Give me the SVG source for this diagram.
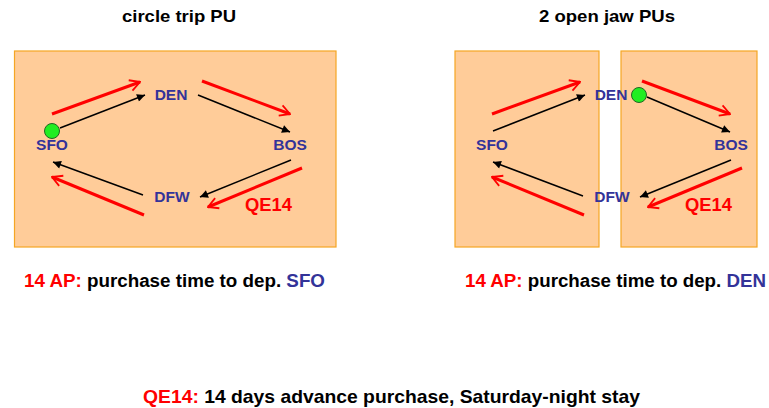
<svg xmlns="http://www.w3.org/2000/svg" width="769" height="408" viewBox="0 0 769 408">
<style>
text{font-family:"Liberation Sans",Arial,sans-serif;font-weight:bold}
.box{fill:#FFCC99;stroke:#F5A623;stroke-width:1.2}
.lbl{font-size:15.5px;fill:#333399;text-anchor:middle}
.ttl{font-size:17px;fill:#000;text-anchor:middle}
.qe{font-size:18px;fill:#FF0000}
.red{fill:#FF0000}
.blk{fill:#000}
.blue{fill:#333399}
.ra{stroke:#FF0000;stroke-width:3;fill:none;marker-end:url(#ro)}
.ba{stroke:#000;stroke-width:1.5;fill:none;marker-end:url(#bk)}
.dot{fill:#22EE22;stroke:#226622;stroke-width:1}
</style>
<defs>
<marker id="ro" markerUnits="userSpaceOnUse" viewBox="0 0 14 14" markerWidth="14" markerHeight="14" refX="12.5" refY="7" orient="auto">
<path d="M2.5,1.5 L12.5,7 L2.5,12.5" fill="none" stroke="#FF0000" stroke-width="1.8"/>
</marker>
<marker id="bk" markerUnits="userSpaceOnUse" viewBox="0 0 10 10" markerWidth="10" markerHeight="8" refX="10" refY="5" orient="auto">
<path d="M0,0 L10,5 L0,10 z" fill="#000"/>
</marker>
</defs>

<text class="ttl" x="179" y="22" textLength="114" lengthAdjust="spacingAndGlyphs">circle trip PU</text>
<text class="ttl" x="607" y="22" textLength="136" lengthAdjust="spacingAndGlyphs">2 open jaw PUs</text>

<g id="box-circle"><rect class="box" x="14.5" y="51" width="321.5" height="196"/></g>
<g id="box-oj1"><rect class="box" x="455" y="51" width="144" height="196"/></g>
<g id="box-oj2"><rect class="box" x="621" y="51" width="136" height="196"/></g>

<g id="connectors">
<line class="ba" x1="60" y1="128" x2="145" y2="95"/>
<line class="ba" x1="198" y1="95" x2="290" y2="132"/>
<line class="ba" x1="291" y1="160" x2="200" y2="197"/>
<line class="ba" x1="143" y1="195" x2="53" y2="162"/>
<line class="ra" x1="52" y1="114" x2="140" y2="82"/>
<line class="ra" x1="202" y1="81" x2="290" y2="114"/>
<line class="ra" x1="302" y1="168" x2="208" y2="207"/>
<line class="ra" x1="144" y1="215" x2="52" y2="177"/>

<line class="ba" x1="493" y1="131" x2="585" y2="95"/>
<line class="ba" x1="647" y1="97" x2="730" y2="132"/>
<line class="ba" x1="731" y1="160" x2="640" y2="197"/>
<line class="ba" x1="583" y1="196" x2="493" y2="162"/>
<line class="ra" x1="492" y1="114" x2="580" y2="82"/>
<line class="ra" x1="642" y1="81" x2="730" y2="114"/>
<line class="ra" x1="742" y1="168" x2="648" y2="207"/>
<line class="ra" x1="584" y1="215" x2="492" y2="177"/>
</g>

<g id="circle-trip">
<g id="c-sfo"><circle class="dot" cx="52" cy="131" r="7.5"/><text class="lbl" x="52" y="150">SFO</text></g>
<g id="c-den"><text class="lbl" x="171" y="100">DEN</text></g>
<g id="c-bos"><text class="lbl" x="290" y="150">BOS</text></g>
<g id="c-dfw"><text class="lbl" x="172" y="202">DFW</text></g>
<g id="c-qe14"><text class="qe" x="245" y="211" textLength="47" lengthAdjust="spacingAndGlyphs">QE14</text></g>
</g>

<g id="open-jaw">
<g id="o-sfo"><text class="lbl" x="492" y="150">SFO</text></g>
<g id="o-den"><text class="lbl" x="611" y="100">DEN</text><circle class="dot" cx="639" cy="95" r="7.5"/></g>
<g id="o-bos"><text class="lbl" x="731" y="150">BOS</text></g>
<g id="o-dfw"><text class="lbl" x="612" y="202">DFW</text></g>
<g id="o-qe14"><text class="qe" x="685" y="211" textLength="47" lengthAdjust="spacingAndGlyphs">QE14</text></g>
</g>

<text x="24" y="287" font-size="18" textLength="301" lengthAdjust="spacingAndGlyphs"><tspan class="red">14 AP:</tspan><tspan class="blk"> purchase time to dep. </tspan><tspan class="blue">SFO</tspan></text>
<text x="465" y="287" font-size="18" textLength="301" lengthAdjust="spacingAndGlyphs"><tspan class="red">14 AP:</tspan><tspan class="blk"> purchase time to dep. </tspan><tspan class="blue">DEN</tspan></text>
<text x="143" y="403" font-size="18.5" textLength="497" lengthAdjust="spacingAndGlyphs"><tspan class="red">QE14:</tspan><tspan class="blk"> 14 days advance purchase, Saturday-night stay</tspan></text>
</svg>
